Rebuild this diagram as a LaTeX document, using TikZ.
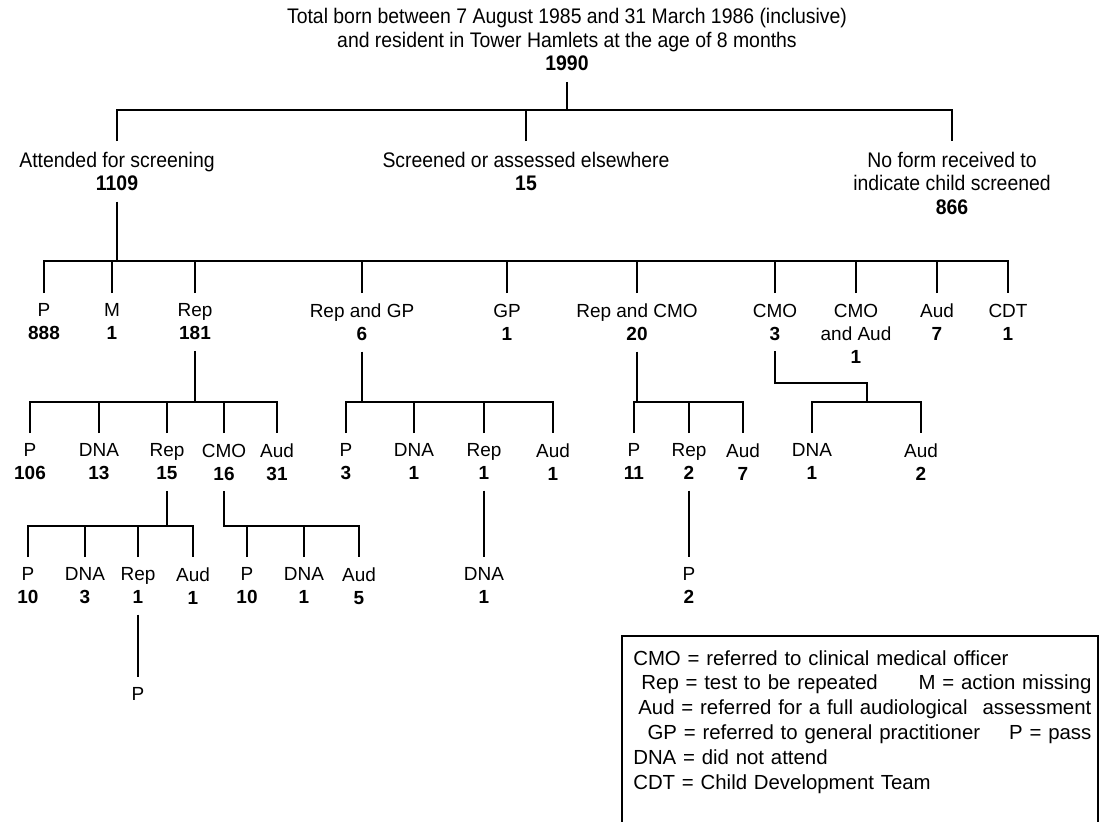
\documentclass[tikz,border=0pt]{standalone}
\usepackage{fontspec}
\setmainfont{Liberation Sans}
\newfontfamily\narrowfont[FakeStretch=0.92]{Liberation Sans}
\tikzset{
  lbl/.style={align=center, anchor=north, inner sep=0pt, outer sep=0.27cm,
    font=\fontsize{13.5}{16.4}\selectfont},
  toplbl/.style={lbl, font=\narrowfont\fontsize{15}{16.8}\selectfont},
  tline/.style={line width=1.8pt, color=black},
  keytext/.style={align=left, anchor=north west, inner sep=0pt,
    text width=11.45cm, font=\fontsize{14.5}{17.7}\selectfont}
}

\begin{document}
\begin{tikzpicture}[x=0.025cm, y=-0.025cm]
  \useasboundingbox[fill=white] (0,0) rectangle (1103,821);

  % bar heights
  \coordinate (b1) at (0,110);
  \coordinate (b2) at (0,261);
  \coordinate (b3) at (0,402);
  \coordinate (b4) at (0,526);

  % top of the tree
  \node[toplbl, anchor=south] (ttl) at (567,82)
    {Total born between 7 August 1985 and 31 March 1986 (inclusive)\\
     and resident in Tower Hamlets at the age of 8 months\\ \textbf{1990}};
  \node[toplbl] (att) at (117,141) {Attended for screening\\ \textbf{1109}};
  \node[toplbl] (scr) at (526,141) {Screened or assessed elsewhere\\ \textbf{15}};
  \node[toplbl] (nof) at (952,141) {No form received to\\ indicate child screened\\ \textbf{866}};

  \draw[tline] (ttl.south) -- (ttl.south |- b1);
  \draw[tline] (att.north) |- (nof.north |- b1) -- (nof.north);
  \draw[tline] (scr.north) -- (scr.north |- b1);

  % second level
  \node[lbl] (p2) at (44,293) {P\\ \textbf{888}};
  \node[lbl] (m2) at (112,293) {M\\ \textbf{1}};
  \node[lbl] (rep2) at (195,293) {Rep\\ \textbf{181}};
  \node[lbl] (repgp) at (362,293) {Rep and GP\\ \textbf{6}};
  \node[lbl] (gp2) at (507,293) {GP\\ \textbf{1}};
  \node[lbl] (repcmo) at (637,293) {Rep and CMO\\ \textbf{20}};
  \node[lbl] (cmo2) at (775,293) {CMO\\ \textbf{3}};
  \node[lbl] (cmoaud) at (856,293) {CMO\\ and Aud\\ \textbf{1}};
  \node[lbl] (aud2) at (937,293) {Aud\\ \textbf{7}};
  \node[lbl] (cdt2) at (1008,293) {CDT\\ \textbf{1}};

  \draw[tline] (att.south) -- (att.south |- b2);
  \draw[tline] (p2.north) |- (cdt2.north |- b2) -- (cdt2.north);
  \foreach \n in {m2,rep2,repgp,gp2,repcmo,cmo2,cmoaud,aud2}
    \draw[tline] (\n.north) -- (\n.north |- b2);

  % third level
  \node[lbl] (p3) at (30,433) {P\\ \textbf{106}};
  \node[lbl] (dna3) at (99,433) {DNA\\ \textbf{13}};
  \node[lbl] (rep3) at (167,433) {Rep\\ \textbf{15}};
  \node[lbl] (cmo3) at (224,433) {CMO\\ \textbf{16}};
  \node[lbl] (aud3) at (277,433) {Aud\\ \textbf{31}};

  \node[lbl] (pg3) at (346,433) {P\\ \textbf{3}};
  \node[lbl] (dg3) at (414,433) {DNA\\ \textbf{1}};
  \node[lbl] (rg3) at (484,433) {Rep\\ \textbf{1}};
  \node[lbl] (ag3) at (553,433) {Aud\\ \textbf{1}};

  \node[lbl] (pc3) at (634,433) {P\\ \textbf{11}};
  \node[lbl] (rc3) at (689,433) {Rep\\ \textbf{2}};
  \node[lbl] (ac3) at (743,433) {Aud\\ \textbf{7}};

  \node[lbl] (dm3) at (812,433) {DNA\\ \textbf{1}};
  \node[lbl] (am3) at (921,433) {Aud\\ \textbf{2}};
  \coordinate (cmoj) at (867,383);

  \draw[tline] (rep2.south) -- (rep2.south |- b3);
  \draw[tline] (p3.north) |- (aud3.north |- b3) -- (aud3.north);
  \foreach \n in {dna3,rep3,cmo3}
    \draw[tline] (\n.north) -- (\n.north |- b3);

  \draw[tline] (repgp.south) -- (repgp.south |- b3);
  \draw[tline] (pg3.north) |- (ag3.north |- b3) -- (ag3.north);
  \foreach \n in {dg3,rg3}
    \draw[tline] (\n.north) -- (\n.north |- b3);

  \draw[tline] (repcmo.south) -- (repcmo.south |- b3);
  \draw[tline] (pc3.north) |- (ac3.north |- b3) -- (ac3.north);
  \draw[tline] (rc3.north) -- (rc3.north |- b3);

  \draw[tline] (cmo2.south) |- (cmoj) -- (cmoj |- b3);
  \draw[tline] (dm3.north) |- (am3.north |- b3) -- (am3.north);

  % fourth level
  \node[lbl] (p4) at (28,557) {P\\ \textbf{10}};
  \node[lbl] (d4) at (85,557) {DNA\\ \textbf{3}};
  \node[lbl] (r4) at (138,557) {Rep\\ \textbf{1}};
  \node[lbl] (a4) at (193,557) {Aud\\ \textbf{1}};

  \node[lbl] (pm4) at (247,557) {P\\ \textbf{10}};
  \node[lbl] (dmm4) at (304,557) {DNA\\ \textbf{1}};
  \node[lbl] (am4) at (359,557) {Aud\\ \textbf{5}};

  \node[lbl] (dg4) at (484,557) {DNA\\ \textbf{1}};
  \node[lbl] (pc4) at (689,557) {P\\ \textbf{2}};

  \draw[tline] (rep3.south) -- (rep3.south |- b4);
  \draw[tline] (p4.north) |- (a4.north |- b4) -- (a4.north);
  \foreach \n in {d4,r4}
    \draw[tline] (\n.north) -- (\n.north |- b4);

  \draw[tline] (cmo3.south) |- (am4.north |- b4) -- (am4.north);
  \foreach \n in {pm4,dmm4}
    \draw[tline] (\n.north) -- (\n.north |- b4);

  \draw[tline] (rg3.south) -- (dg4.north);
  \draw[tline] (rc3.south) -- (pc4.north);

  % last one
  \node[lbl] (p5) at (138,677) {P};
  \draw[tline] (r4.south) -- (p5.north);

  % key
  \draw[line width=1.2pt] (622,830) |- (1098,636) -- (1098,830);
  \node[keytext] (key) at (633,650)
    {CMO = referred to clinical medical officer\\
     \hspace{0.4em}Rep = test to be repeated\hfill M = action missing\\
     \hspace{0.25em}Aud = referred for a full audiological\hfill assessment\\
     \hspace{0.7em}GP = referred to general practitioner\hfill P = pass\\
     DNA = did not attend\\
     CDT = Child Development Team};
\end{tikzpicture}
\end{document}
